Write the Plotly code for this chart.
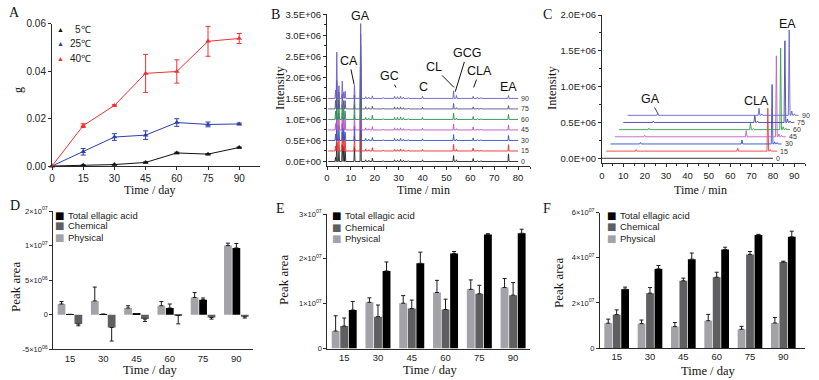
import plotly.graph_objects as go

W, H = 819, 380
def px(x): return x / W
def py(y): return 1 - y / H

SANS = "Liberation Sans, Arial, sans-serif"
SERIF = "Liberation Serif, Times New Roman, serif"
AXC = "#2a2a2a"

# ---------------- Panel A: weight gain ----------------
days_A = [0, 15, 30, 45, 60, 75, 90]
g_5C = [0, 0.0003, 0.0006, 0.0015, 0.0055, 0.0050, 0.0078]
g_5C_err = [0, 0.0001, 0.0001, 0.0002, 0.0003, 0.0002, 0.0002]
g_25C = [0, 0.0060, 0.0122, 0.0130, 0.0183, 0.0175, 0.0177]
g_25C_err = [0, 0.0014, 0.0014, 0.0018, 0.0016, 0.0010, 0.0004]
g_40C = [0, 0.0170, 0.0255, 0.0390, 0.0398, 0.0525, 0.0537]
g_40C_err = [0, 0.0008, 0.0003, 0.0080, 0.0049, 0.0063, 0.0021]
temps = ["5℃", "25℃", "40℃"]
temp_colors = ["#111111", "#2B3FA8", "#F0302E"]

# ---------------- Panel B: chromatograms ----------------
B_days = ["0", "15", "30", "45", "60", "75", "90"]
B_offsets = [0, 0.25, 0.5, 0.75, 1.0, 1.25, 1.5]   # x10^6
B_colors = ["#222222", "#EE2B2B", "#2F55C8", "#B455C0", "#2E9050", "#55558F", "#6A5FC8"]
B_rt = [3.6, 4.1, 5.0, 6.4, 7.0, 7.6, 11.5, 14.1, 16.2, 17.5, 19.0, 23.5, 28.3, 29.5, 30.8, 32.0, 34.0,
        40.0, 53.0, 54.2, 61.2, 63.0, 64.5, 76.0]
B_heights = [
    [0.10, 0.45, 0.25, 0.40, 0.35, 0.25, 0.35, 1.75, 0.04, 0.03, 0.08, 0.02, 0.04, 0.03, 0.05, 0.03, 0.02, 0.04, 0.14, 0.04, 0.07, 0.02, 0.02, 0.18],
    [0.12, 0.50, 0.30, 0.45, 0.40, 0.25, 0.35, 1.75, 0.05, 0.03, 0.08, 0.02, 0.04, 0.03, 0.05, 0.03, 0.02, 0.04, 0.16, 0.04, 0.07, 0.02, 0.02, 0.15],
    [0.15, 0.55, 0.35, 0.40, 0.30, 0.20, 0.35, 1.75, 0.05, 0.03, 0.07, 0.02, 0.05, 0.03, 0.05, 0.03, 0.02, 0.04, 0.14, 0.03, 0.06, 0.02, 0.02, 0.12],
    [0.15, 0.60, 0.40, 0.40, 0.30, 0.25, 0.35, 1.75, 0.05, 0.03, 0.08, 0.02, 0.05, 0.04, 0.05, 0.03, 0.02, 0.04, 0.14, 0.03, 0.07, 0.02, 0.02, 0.12],
    [0.20, 0.50, 0.45, 0.35, 0.25, 0.20, 0.35, 1.75, 0.05, 0.03, 0.10, 0.02, 0.05, 0.05, 0.06, 0.04, 0.02, 0.05, 0.15, 0.03, 0.07, 0.02, 0.02, 0.12],
    [0.20, 0.68, 0.40, 0.35, 0.20, 0.20, 0.33, 1.78, 0.05, 0.03, 0.07, 0.02, 0.05, 0.04, 0.05, 0.03, 0.02, 0.04, 0.13, 0.03, 0.05, 0.02, 0.02, 0.08],
    [0.20, 1.10, 0.30, 0.41, 0.15, 0.17, 0.32, 1.78, 0.04, 0.03, 0.06, 0.02, 0.05, 0.04, 0.05, 0.03, 0.02, 0.05, 0.18, 0.07, 0.05, 0.03, 0.02, 0.07],
]
B_peak_labels = ["GA", "CA", "GC", "C", "CL", "GCG", "CLA", "EA"]
B_label_x = [14.0, 9.3, 26.3, 40.2, 44.6, 58.6, 63.9, 76.2]
B_label_y = [3.46, 2.39, 2.03, 1.78, 2.25, 2.57, 2.15, 1.76]
B_tip_x = [None, 11.35, 28.9, None, 53.2, 53.7, 61.4, None]
B_tip_y = [None, 1.83, 1.76, None, 1.76, 1.66, 1.76, None]

# ---------------- Panel C: ellagic acid chromatograms ----------------
C_days = ["0", "15", "30", "45", "60", "75", "90"]
C_xshift = [0, 2, 4, 6, 8, 10, 12]          # min
C_offsets = [0, 0.1, 0.2, 0.3, 0.4, 0.5, 0.6]  # x10^6
C_colors = ["#222222", "#F03C3C", "#2B50C8", "#C060C8", "#30A050", "#4545A5", "#6565C5"]
C_rt = [14.0, 61.5, 62.8, 75.6, 76.8, 78.0]
C_heights = [
    [0.0, 0.0, 0.0, 0.0, 0.0, 0.0],
    [0.02, 0.04, 0.01, 0.60, 0.02, 0.01],
    [0.02, 0.056, 0.01, 0.83, 0.03, 0.02],
    [0.02, 0.086, 0.01, 1.13, 0.04, 0.02],
    [0.02, 0.09, 0.015, 1.14, 0.04, 0.02],
    [0.02, 0.10, 0.02, 1.14, 0.05, 0.02],
    [0.02, 0.10, 0.02, 1.19, 0.06, 0.02],
]
C_peak_labels = ["GA", "CLA", "EA"]
C_label_x = [22.5, 72.2, 87.0]
C_label_y = [0.83, 0.80, 1.88]
C_tip_x = [26.4, None, None]
C_tip_y = [0.61, None, None]

# ---------------- Panels D, E, F: peak areas (x10^6) ----------------
days = ["15", "30", "45", "60", "75", "90"]
D_physical = [1.55, 2.0, 0.97, 1.3, 2.5, 10.0]
D_physical_err = [0.35, 2.0, 0.33, 0.6, 0.7, 0.35]
D_total = [0.05, 0.08, 0.15, 0.97, 2.17, 9.66]
D_total_err = [0, 0, 0, 0.58, 0.25, 0.64]
D_chemical = [-1.35, -1.85, -0.63, -0.12, -0.39, -0.29]
D_chemical_err = [0.25, 1.95, 0.34, 1.2, 0.24, 0.19]

E_physical = [3.9, 10.3, 10.1, 12.5, 13.2, 13.6]
E_physical_err = [3.4, 1.0, 1.7, 2.7, 2.1, 2.0]
E_chemical = [5.0, 7.1, 8.9, 8.7, 12.2, 11.9]
E_chemical_err = [1.8, 2.6, 1.9, 2.3, 1.9, 2.8]
E_total = [8.6, 17.3, 19.0, 21.2, 25.4, 25.7]
E_total_err = [1.9, 2.0, 2.5, 0.45, 0.2, 0.9]

F_physical = [11.0, 10.8, 9.5, 12.1, 8.3, 11.1]
F_physical_err = [1.8, 1.6, 1.8, 2.8, 1.3, 2.4]
F_chemical = [14.8, 24.3, 29.8, 31.4, 41.5, 38.1]
F_chemical_err = [2.1, 2.5, 1.2, 2.2, 1.3, 0.4]
F_total = [26.1, 35.1, 39.4, 43.7, 50.1, 49.3]
F_total_err = [0.9, 1.5, 2.7, 1.0, 0.3, 2.5]

series_names = ["Total ellagic acid", "Chemical", "Physical"]
series_colors = {"Total ellagic acid": "#000000", "Chemical": "#5F5F62", "Physical": "#A2A2A8"}

fig = go.Figure()

# ---- A ----
for name, col, vals, errs in zip(temps, temp_colors, [g_5C, g_25C, g_40C], [g_5C_err, g_25C_err, g_40C_err]):
    fig.add_trace(go.Scatter(
        x=days_A, y=vals, name=name, mode="lines+markers", xaxis="x", yaxis="y",
        line=dict(color=col, width=1), marker=dict(symbol="triangle-up", size=5, color=col),
        error_y=dict(type="data", array=errs, color=col, thickness=1, width=2.5),
        showlegend=False, cliponaxis=False))

# ---- B ----
def chromatogram(rts, heights, t0, t1, shift, offset, halfw):
    xs, ys = [t0 + shift], [offset]
    for rt, h in zip(rts, heights):
        xs += [rt - halfw + shift, rt + shift, rt + halfw + shift]
        ys += [offset, offset + h, offset]
    xs.append(t1 + shift)
    ys.append(offset)
    return xs, ys

for d, off, col, hs in zip(B_days, B_offsets, B_colors, B_heights):
    xs, ys = chromatogram(B_rt, hs, 0.5, 80.0, 0, off, 0.25)
    fig.add_trace(go.Scatter(x=xs, y=ys, mode="lines", xaxis="x2", yaxis="y2", name=d + " day",
                             line=dict(color=col, width=0.9), showlegend=False))

# ---- C ----
for d, sh, off, col, hs in zip(C_days, C_xshift, C_offsets, C_colors, C_heights):
    xs, ys = chromatogram(C_rt, hs, 0.0, 80.0, sh, off, 0.4)
    fig.add_trace(go.Scatter(x=xs, y=ys, mode="lines", xaxis="x3", yaxis="y3", name=d + " day",
                             line=dict(color=col, width=0.9), showlegend=False))

# ---- D, E, F bars ----
def add_bars(order, data, xa, ya):
    for name in order:
        vals, up, down = data[name]
        fig.add_trace(go.Bar(
            x=days, y=vals, name=name, xaxis=xa, yaxis=ya, marker_color=series_colors[name],
            marker_line_width=0, showlegend=False,
            error_y=dict(type="data", symmetric=False, array=up, arrayminus=down,
                         color="#1a1a1a", thickness=1, width=2)))

zeros = [0] * 6
add_bars(["Physical", "Total ellagic acid", "Chemical"], {
    "Physical": (D_physical, D_physical_err, zeros),
    "Total ellagic acid": (D_total, D_total_err, zeros),
    "Chemical": (D_chemical, zeros, D_chemical_err)}, "x4", "y4")
add_bars(["Physical", "Chemical", "Total ellagic acid"], {
    "Physical": (E_physical, E_physical_err, zeros),
    "Chemical": (E_chemical, E_chemical_err, zeros),
    "Total ellagic acid": (E_total, E_total_err, zeros)}, "x5", "y5")
add_bars(["Physical", "Chemical", "Total ellagic acid"], {
    "Physical": (F_physical, F_physical_err, zeros),
    "Chemical": (F_chemical, F_chemical_err, zeros),
    "Total ellagic acid": (F_total, F_total_err, zeros)}, "x6", "y6")

# ---------------- axes ----------------
def ax(**kw):
    base = dict(showline=True, linecolor=AXC, linewidth=1, ticks="outside", ticklen=3,
                tickcolor=AXC, tickwidth=1, showgrid=False, zeroline=False, automargin=False,
                tickfont=dict(family=SANS, size=10, color="#222"))
    base.update(kw)
    return base

sci = lambda m, e: f"{m}×10<sup>{e}</sup>"
TF = dict(family=SANS, size=9.5, color="#222")
TFs = dict(family=SANS, size=7.5, color="#222")

fig.update_layout(
    xaxis=ax(domain=[px(52), px(260)], range=[0, 100], tickvals=days_A, anchor="y"),
    yaxis=ax(domain=[py(166), py(23.5)], range=[0, 0.06], tickvals=[0, 0.02, 0.04, 0.06],
             tickformat=".2f", anchor="x"),
    xaxis2=ax(domain=[px(327), px(530)], range=[0, 85], tickvals=list(range(0, 81, 10)),
              minor=dict(ticks="outside", ticklen=2, dtick=5, tickcolor=AXC), anchor="y2", tickfont=TF),
    yaxis2=ax(domain=[py(165.7), py(14.3)], range=[-0.1, 3.5],
              tickvals=[0, 0.5, 1.0, 1.5, 2.0, 2.5, 3.0, 3.5],
              ticktext=["0.0E+00", "0.5E+06", "1.0E+06", "1.5E+06", "2.0E+06", "2.5E+06", "3.0E+06", "3.5E+06"],
              minor=dict(ticks="outside", ticklen=2, dtick=0.25, tickcolor=AXC), anchor="x2", tickfont=TF),
    xaxis3=ax(domain=[px(602), px(805)], range=[0, 95], tickvals=list(range(0, 91, 10)),
              minor=dict(ticks="outside", ticklen=2, dtick=5, tickcolor=AXC), anchor="y3", tickfont=TF),
    yaxis3=ax(domain=[py(163.3), py(15)], range=[-0.07, 2.0],
              tickvals=[0, 0.5, 1.0, 1.5, 2.0],
              ticktext=["0.0E+00", "0.5E+06", "1.0E+06", "1.5E+06", "2.0E+06"],
              minor=dict(ticks="outside", ticklen=2, dtick=0.25, tickcolor=AXC), anchor="x3", tickfont=TF),
    xaxis4=ax(domain=[px(53.3), px(253)], range=[-0.5, 5.5], type="category", anchor="y4",
              ticks="", tickfont=TF),
    yaxis4=ax(domain=[py(349.3), py(211)], range=[-5, 15], tickvals=[-5, 0, 5, 10, 15],
              ticktext=["-5×10<sup>06</sup>", "0", sci(5, "06"), sci(1, "07"), sci(2, "07")],
              anchor="x4", tickfont=TFs),
    xaxis5=ax(domain=[px(327.3), px(530)], range=[-0.5, 5.5], type="category", anchor="y5",
              ticks="", tickfont=TF),
    yaxis5=ax(domain=[py(348.5), py(214)], range=[0, 30], tickvals=[0, 10, 20, 30],
              ticktext=["0", sci(1, "07"), sci(2, "07"), sci(3, "07")], anchor="x5", tickfont=TFs),
    xaxis6=ax(domain=[px(600), px(805)], range=[-0.5, 5.65], type="category", anchor="y6",
              ticks="", tickfont=TF),
    yaxis6=ax(domain=[py(348), py(212.7)], range=[0, 60], tickvals=[0, 20, 40, 60],
              ticktext=["0", sci(2, "07"), sci(4, "07"), sci(6, "07")], anchor="x6", tickfont=TFs),
    barmode="group", bargap=0.24, bargroupgap=0.08,
    width=W, height=H, margin=dict(l=0, r=0, t=0, b=0, autoexpand=False),
    paper_bgcolor="white", plot_bgcolor="rgba(0,0,0,0)",
    showlegend=False,
)

# ---------------- annotations ----------------
ann = []
def txt(x, y, s, size=12, fam=SERIF, angle=0, color="#111", xanchor="center"):
    ann.append(dict(x=px(x), y=py(y), xref="paper", yref="paper", text=s, showarrow=False,
                    font=dict(family=fam, size=size, color=color), textangle=angle,
                    xanchor=xanchor, yanchor="middle"))

# panel letters
for lab, x, y in [("A", 14, 13), ("B", 275, 14), ("C", 547, 14), ("D", 15, 205), ("E", 280, 208), ("F", 547, 208)]:
    txt(x, y, lab, size=14)
# axis titles
txt(18, 90, "g", size=12, angle=-90)
txt(150, 189.5, "Time / day", size=12)
txt(280, 88, "Intensity", size=12.5, angle=-90)
txt(423, 189.5, "Time / min", size=12)
txt(552, 88, "Intensity", size=12.5, angle=-90)
txt(700, 189.5, "Time / min", size=12)
txt(15, 287, "Peak area", size=13, angle=-90)
txt(150, 370, "Time / day", size=12.5)
txt(283, 280, "Peak area", size=13, angle=-90)
txt(430, 370, "Time / day", size=12.5)
txt(558, 283, "Peak area", size=13, angle=-90)
txt(708, 371, "Time / day", size=12.5)

# legend A
for name, col, y in zip(temps, temp_colors, [29, 43, 58]):
    txt(60, y, "▲", size=7, fam=SANS, color=col)
    txt(68, y, name if len(name) > 2 else "\u2002" + name, size=10, fam=SANS, color="#222", xanchor="left")

# legends D, E, F (swatch + label)
for sx, tx, ys in [(59.3, 66, [215, 226, 237.5]), (336.5, 343, [215.7, 227, 238.7]), (611.5, 618, [215, 226.7, 238.7])]:
    for name, y in zip(series_names, ys):
        txt(sx, y, "■", size=10, fam="DejaVu Sans", color=series_colors[name])
        txt(tx, y, name, size=9.5, fam=SANS, color="#222", xanchor="left")

# peak labels B
for lab, lx, ly, tx, ty in zip(B_peak_labels, B_label_x, B_label_y, B_tip_x, B_tip_y):
    if tx is None:
        ann.append(dict(x=lx, y=ly, xref="x2", yref="y2", text=lab, showarrow=False,
                        font=dict(family=SANS, size=12.5, color="#111")))
    else:
        ann.append(dict(x=tx, y=ty, ax=lx, ay=ly, xref="x2", yref="y2", axref="x2", ayref="y2",
                        text=lab, showarrow=True, arrowhead=0, arrowwidth=1, arrowcolor="#111",
                        font=dict(family=SANS, size=12.5, color="#111")))
# trace labels B
for d, off in zip(B_days, B_offsets):
    ann.append(dict(x=80.6, y=off, xref="x2", yref="y2", text=d, showarrow=False, xanchor="left",
                    font=dict(family=SANS, size=7, color="#333")))
# peak labels C
for lab, lx, ly, tx, ty in zip(C_peak_labels, C_label_x, C_label_y, C_tip_x, C_tip_y):
    if tx is None:
        ann.append(dict(x=lx, y=ly, xref="x3", yref="y3", text=lab, showarrow=False,
                        font=dict(family=SANS, size=12.5, color="#111")))
    else:
        ann.append(dict(x=tx, y=ty, ax=lx, ay=ly, xref="x3", yref="y3", axref="x3", ayref="y3",
                        text=lab, showarrow=True, arrowhead=0, arrowwidth=0.8, arrowcolor="#111",
                        font=dict(family=SANS, size=12.5, color="#111")))
# trace labels C
for d, sh, off in zip(C_days, C_xshift, C_offsets):
    ann.append(dict(x=80.5 + sh, y=off, xref="x3", yref="y3", text=d, showarrow=False, xanchor="left",
                    font=dict(family=SANS, size=7, color="#333")))

fig.update_layout(annotations=ann)
fig.write_html("out.html", config={"displayModeBar": False},
               post_script="document.body.style.margin='0';document.body.style.overflow='hidden';")
